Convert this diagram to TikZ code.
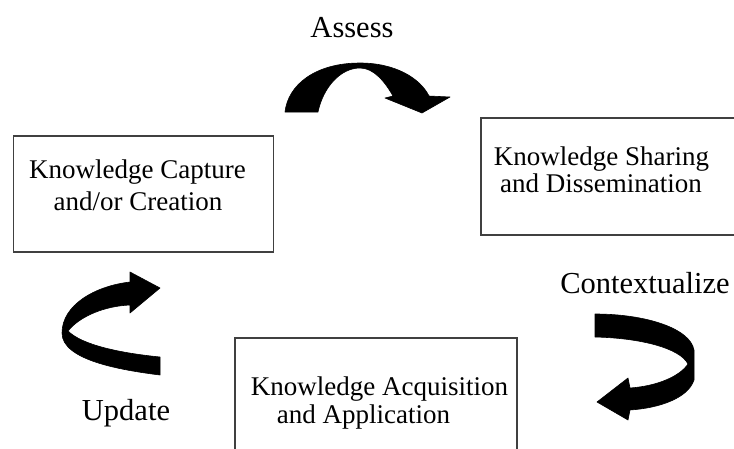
\documentclass[tikz,border=0pt]{standalone}
\usepackage{fontspec}
\setmainfont{Liberation Serif}
\begin{document}
\begin{tikzpicture}[x=1pt,y=-1pt,
  box/.style={draw=black!75,line width=1.3pt,rectangle,inner sep=0pt},
  boxtext/.style={anchor=base,inner sep=0pt,font=\fontsize{27}{30}\selectfont},
  steplabel/.style={anchor=base,inner sep=0pt,font=\fontsize{30.5}{34}\selectfont},
  ribbon/.style={fill=black,draw=black,line width=0.6pt,line join=round}]
\useasboundingbox (0,0) rectangle (734,448);
\clip (0,0) rectangle (734,448);

% the three stages
\node[box,minimum width=260,minimum height=116] (capture) at (143.5,194) {};
\node[box,minimum width=260,minimum height=117] (sharing) at (611,176.5) {};
\node[box,minimum width=282,minimum height=120] (acquire) at (376,398) {};

\node[boxtext] (capA) at (137.5,178) {Knowledge Capture};
\node[boxtext] (capB) at (138,210) {and/or Creation};
\node[boxtext] (shaA) at (601.5,165) {Knowledge Sharing};
\node[boxtext] (shaB) at (601,192) {and Dissemination};
\node[boxtext] (acqA) at (379.5,395) {Knowledge Acquisition};
\node[boxtext] (acqB) at (363.5,423) {and Application};

% transition labels
\node[steplabel] (assess) at (352,37) {Assess};
\node[steplabel] (context) at (645,293) {Contextualize};
\node[steplabel] (update) at (126,420) {Update};

% curved ribbon arrows
\fill[ribbon] (285,112) .. controls (288,85) and (315,63) .. (360,63)
  .. controls (395,63) and (420,78) .. (429,96) -- (450,97) -- (422,113)
  -- (385,98) -- (393,96) .. controls (385,82) and (374,68) .. (360,68)
  .. controls (340,68) and (323,88) .. (318,112) -- cycle;

\fill[ribbon] (595,314) .. controls (645,314) and (690,328) .. (694,350)
  -- (694,380) .. controls (688,398) and (660,408) .. (630,410)
  -- (628,420) -- (597,402) -- (628,378) -- (630,388)
  .. controls (658,386) and (680,376) .. (688,364)
  .. controls (680,348) and (640,338) .. (595,337) -- cycle;

\fill[ribbon] (160,375) -- (160,357) .. controls (120,353) and (82,345) .. (68,331)
  .. controls (80,316) and (105,306) .. (130,305) -- (130,313) -- (160,288)
  -- (130,272) -- (130,282) .. controls (95,286) and (62,305) .. (62,333)
  .. controls (62,360) and (120,370) .. (160,375) -- cycle;
\end{tikzpicture}
\end{document}
